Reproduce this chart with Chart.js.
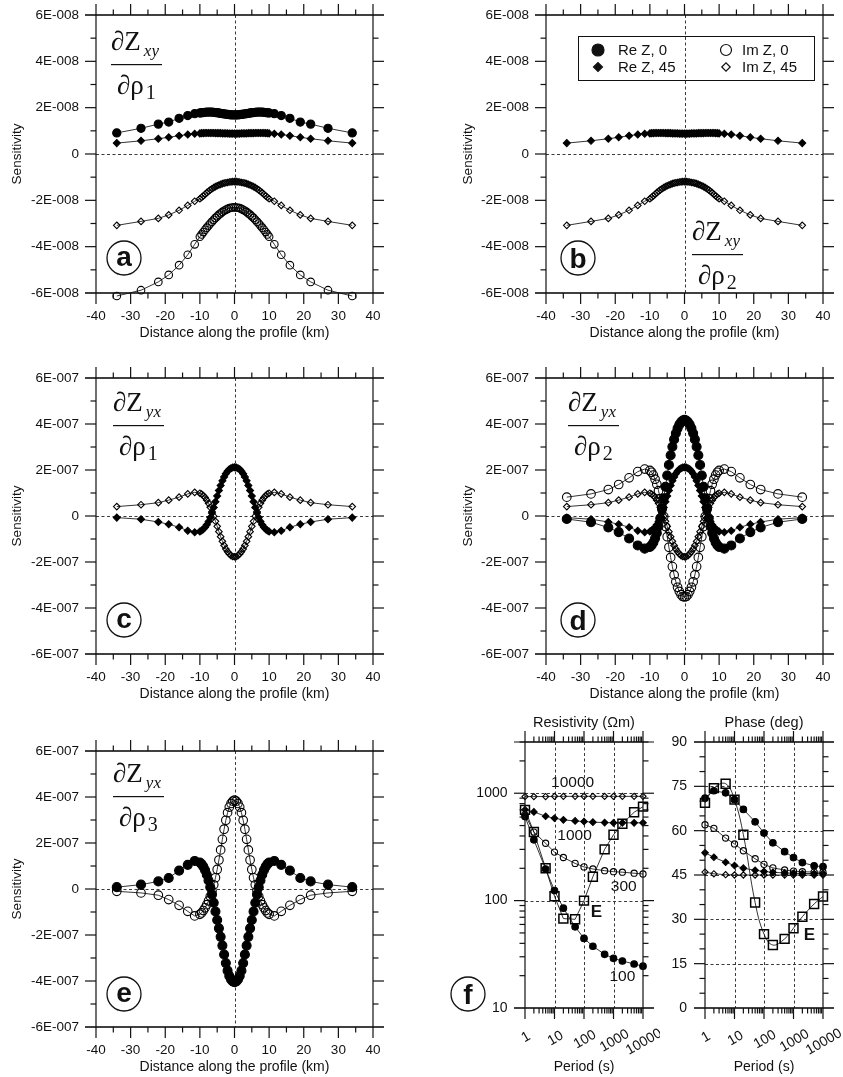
<!DOCTYPE html>
<html>
<head>
<meta charset="utf-8">
<script src="https://cdn.jsdelivr.net/npm/chart.js@4.4.1/dist/chart.umd.min.js"></script>
<style>
  html, body { margin: 0; padding: 0; background: #fff; }
  #page { position: relative; width: 843px; height: 1077px; overflow: hidden; background: #fff; }
  canvas { position: absolute; }
</style>
</head>
<body>
<div id="page">
  <canvas id="pa"></canvas>
  <canvas id="pb"></canvas>
  <canvas id="pc"></canvas>
  <canvas id="pd"></canvas>
  <canvas id="pe"></canvas>
  <canvas id="pf1"></canvas>
  <canvas id="pf2"></canvas>
</div>
<script>
(function () {
    "use strict";

    // ---- data: sensitivity profiles (a-e) ----
    const distance = [-34, -27, -22, -19, -16, -13.5, -11.5, -10, -9.5, -9, -8.5, -8, -7.5, -7, -6.5, -6,
        -5.5, -5, -4.5, -4, -3.5, -3, -2.5, -2, -1.5, -1, -0.5, 0, 0.5, 1, 1.5, 2, 2.5, 3, 3.5, 4, 4.5,
        5, 5.5, 6, 6.5, 7, 7.5, 8, 8.5, 9, 9.5, 10, 11.5, 13.5, 16, 19, 22, 27, 34];

    // dZxy/drho1, dZxy/drho2  (units of 1E-008)
    const xyReZ0 = [0.91, 1.11, 1.29, 1.38, 1.54, 1.66, 1.74, 1.77, 1.78, 1.79, 1.80, 1.81, 1.81, 1.81,
        1.81, 1.80, 1.79, 1.78, 1.77, 1.75, 1.74, 1.73, 1.72, 1.71, 1.70, 1.69, 1.69, 1.69,
        1.69, 1.69, 1.70, 1.71, 1.72, 1.73, 1.74, 1.75, 1.77, 1.78, 1.79, 1.80, 1.81, 1.81, 1.81,
        1.81, 1.80, 1.79, 1.78, 1.77, 1.74, 1.66, 1.54, 1.38, 1.29, 1.11, 0.91];
    const xyReZ45 = [0.47, 0.57, 0.66, 0.72, 0.79, 0.84, 0.87, 0.89, 0.90, 0.90, 0.91, 0.91, 0.91, 0.91,
        0.91, 0.91, 0.90, 0.90, 0.90, 0.90, 0.89, 0.89, 0.89, 0.89, 0.88, 0.88, 0.88, 0.88,
        0.88, 0.88, 0.88, 0.89, 0.89, 0.89, 0.89, 0.90, 0.90, 0.90, 0.90, 0.91, 0.91, 0.91, 0.91,
        0.91, 0.91, 0.90, 0.90, 0.89, 0.87, 0.84, 0.79, 0.72, 0.66, 0.57, 0.47];
    const xyImZ0 = [-6.13, -5.88, -5.52, -5.22, -4.80, -4.35, -3.90, -3.57, -3.47, -3.37, -3.27, -3.18,
        -3.09, -3.00, -2.92, -2.84, -2.76, -2.69, -2.62, -2.56, -2.50, -2.45, -2.41, -2.37, -2.34,
        -2.32, -2.31, -2.30, -2.31, -2.32, -2.34, -2.37, -2.41, -2.45, -2.50, -2.56, -2.62, -2.69,
        -2.76, -2.84, -2.92, -3.00, -3.09, -3.18, -3.27, -3.37, -3.47, -3.57, -3.90, -4.35, -4.80,
        -5.22, -5.52, -5.88, -6.13];
    const xyImZ45 = [-3.08, -2.91, -2.78, -2.63, -2.43, -2.22, -2.04, -1.93, -1.87, -1.81, -1.74, -1.67,
        -1.61, -1.55, -1.50, -1.45, -1.41, -1.37, -1.34, -1.31, -1.28, -1.26, -1.24, -1.23, -1.21,
        -1.20, -1.19, -1.19, -1.19, -1.20, -1.21, -1.23, -1.24, -1.26, -1.28, -1.31, -1.34, -1.37,
        -1.41, -1.45, -1.50, -1.55, -1.61, -1.67, -1.74, -1.81, -1.87, -1.93, -2.04, -2.22, -2.43,
        -2.63, -2.78, -2.91, -3.08];

    // dZyx/drho1, dZyx/drho2  (units of 1E-007)
    const yxReZ45 = [-0.07, -0.14, -0.26, -0.36, -0.49, -0.64, -0.71, -0.67, -0.63, -0.57, -0.49, -0.38,
        -0.24, -0.07, 0.13, 0.37, 0.62, 0.87, 1.11, 1.33, 1.53, 1.70, 1.84, 1.95, 2.03, 2.08, 2.11, 2.12,
        2.11, 2.08, 2.03, 1.95, 1.84, 1.70, 1.53, 1.33, 1.11, 0.87, 0.62, 0.37, 0.13, -0.07, -0.24,
        -0.38, -0.49, -0.57, -0.63, -0.67, -0.71, -0.64, -0.49, -0.36, -0.26, -0.14, -0.07];
    const yxImZ45 = [0.41, 0.49, 0.58, 0.69, 0.82, 0.96, 1.03, 0.99, 0.95, 0.89, 0.80, 0.69, 0.55, 0.38,
        0.19, -0.01, -0.23, -0.45, -0.68, -0.90, -1.10, -1.28, -1.43, -1.55, -1.65, -1.72, -1.76, -1.77,
        -1.76, -1.72, -1.65, -1.55, -1.43, -1.28, -1.10, -0.90, -0.68, -0.45, -0.23, -0.01, 0.19, 0.38,
        0.55, 0.69, 0.80, 0.89, 0.95, 0.99, 1.03, 0.96, 0.82, 0.69, 0.58, 0.49, 0.41];
    const yxReZ0r2 = [-0.13, -0.27, -0.50, -0.70, -0.98, -1.28, -1.42, -1.35, -1.27, -1.15, -0.97, -0.74,
        -0.45, -0.10, 0.30, 0.77, 1.27, 1.76, 2.22, 2.64, 3.01, 3.33, 3.60, 3.81, 3.97, 4.08, 4.15, 4.18,
        4.15, 4.08, 3.97, 3.81, 3.60, 3.33, 3.01, 2.64, 2.22, 1.76, 1.27, 0.77, 0.30, -0.10, -0.45,
        -0.74, -0.97, -1.15, -1.27, -1.35, -1.42, -1.28, -0.98, -0.70, -0.50, -0.27, -0.13];
    const yxImZ0r2 = [0.82, 0.96, 1.15, 1.37, 1.66, 1.93, 2.04, 1.98, 1.90, 1.78, 1.60, 1.38, 1.10, 0.76,
        0.38, -0.02, -0.46, -0.90, -1.36, -1.80, -2.20, -2.56, -2.86, -3.10, -3.28, -3.42, -3.50, -3.52,
        -3.50, -3.42, -3.28, -3.10, -2.86, -2.56, -2.20, -1.80, -1.36, -0.90, -0.46, -0.02, 0.38, 0.76,
        1.10, 1.38, 1.60, 1.78, 1.90, 1.98, 2.04, 1.93, 1.66, 1.37, 1.15, 0.96, 0.82];

    // dZyx/drho3  (units of 1E-007)
    const yxReZ0r3 = [0.08, 0.19, 0.33, 0.48, 0.80, 1.05, 1.22, 1.15, 1.08, 0.97, 0.82, 0.62, 0.37, 0.08,
        -0.24, -0.60, -0.98, -1.35, -1.71, -2.08, -2.46, -2.85, -3.22, -3.55, -3.78, -3.93, -4.02, -4.05,
        -4.02, -3.93, -3.78, -3.55, -3.22, -2.85, -2.46, -2.08, -1.71, -1.35, -0.98, -0.60, -0.24, 0.08,
        0.37, 0.62, 0.82, 0.97, 1.08, 1.15, 1.22, 1.05, 0.80, 0.48, 0.33, 0.19, 0.08];
    const yxImZ0r3 = [-0.10, -0.17, -0.27, -0.46, -0.71, -0.97, -1.17, -1.10, -1.04, -0.94, -0.82, -0.68,
        -0.52, -0.32, -0.09, 0.18, 0.49, 0.85, 1.26, 1.70, 2.16, 2.60, 2.99, 3.32, 3.56, 3.72, 3.82, 3.86,
        3.82, 3.72, 3.56, 3.32, 2.99, 2.60, 2.16, 1.70, 1.26, 0.85, 0.49, 0.18, -0.09, -0.32, -0.52,
        -0.68, -0.82, -0.94, -1.04, -1.10, -1.17, -0.97, -0.71, -0.46, -0.27, -0.17, -0.10];

    // ---- data: sounding curves (f) ----
    const period = [1, 2, 5, 10, 20, 50, 100, 200, 500, 1000, 2000, 5000, 10000];
    const res100 = [606, 368, 197, 124, 85, 57, 44.5, 37.6, 31.6, 29, 27.4, 25.7, 24.5];
    const res300 = [630, 435, 342, 283, 252, 222, 206, 197, 190, 186, 184, 180, 177];
    const res1000 = [700, 670, 610, 585, 565, 552, 545, 538, 533, 530, 530, 530, 530];
    const res10000 = [930, 930, 932, 935, 935, 935, 935, 935, 935, 935, 935, 935, 935];
    const resE = [700, 435, 200, 110, 68, 67, 100, 167, 300, 410, 520, 665, 750];
    const phase100 = [71, 73.5, 72.8, 70.5, 67.2, 63, 59.2, 55.9, 52.9, 50.9, 49.2, 48.1, 47.8];
    const phase300 = [62, 60.8, 57.5, 55.5, 53.2, 50.5, 48.6, 47.4, 46.7, 46.3, 46.1, 46, 45.9];
    const phase1000 = [52.5, 51, 49.3, 48.2, 47.3, 46.6, 46.2, 45.9, 45.7, 45.6, 45.5, 45.5, 45.5];
    const phase10000 = [46, 45.4, 45.1, 45, 45, 45, 45, 45, 45, 45, 45, 45, 45];
    const phaseE = [69.4, 74.4, 75.9, 70.5, 58.6, 35.7, 25.0, 21.3, 23.4, 27.0, 30.9, 35.2, 37.7];

    // ---- ticks and labels ----
    const distTicks = [-40, -30, -20, -10, 0, 10, 20, 30, 40];
    const distMinor = [-35, -25, -15, -5, 5, 15, 25, 35];
    const sensTicks = [-6, -4, -2, 0, 2, 4, 6];
    const sensMinor = [-5, -3, -1, 1, 3, 5];
    const periodTicks = [1, 10, 100, 1000, 10000];
    const periodMinor = [2, 3, 4, 5, 6, 7, 8, 9, 20, 30, 40, 50, 60, 70, 80, 90, 200, 300, 400, 500,
        600, 700, 800, 900, 2000, 3000, 4000, 5000, 6000, 7000, 8000, 9000];
    const resTicks = [10, 100, 1000];
    const resMinor = [20, 30, 40, 50, 60, 70, 80, 90, 200, 300, 400, 500, 600, 700, 800, 900, 2000, 3000];
    const phaseTicks = [0, 15, 30, 45, 60, 75, 90];
    const phaseMinor = [5, 10, 20, 25, 35, 40, 50, 55, 65, 70, 80, 85];
    const legendLabels = ["Re Z, 0", "Re Z, 45", "Im Z, 0", "Im Z, 45"];

    const SANS = '"Liberation Sans", Arial, sans-serif';
    const SERIF = '"Liberation Serif", "DejaVu Serif", serif';
    Chart.defaults.font.family = SANS;
    Chart.defaults.color = "#111";

    function seg(ctx, x1, y1, x2, y2) {
        ctx.beginPath();
        ctx.moveTo(x1, y1);
        ctx.lineTo(x2, y2);
        ctx.stroke();
    }

    function marker(ctx, shape, x, y, r, filled) {
        ctx.beginPath();
        if (shape === "circle") {
            ctx.arc(x, y, r, 0, Math.PI * 2);
        } else {
            ctx.moveTo(x - r, y);
            ctx.lineTo(x, y - r);
            ctx.lineTo(x + r, y);
            ctx.lineTo(x, y + r);
            ctx.closePath();
        }
        if (filled) ctx.fill();
        ctx.stroke();
    }

    // Frame, ticks on all four sides, reference lines and panel decorations
    const framePlugin = {
        id: "frame",
        beforeDatasetsDraw(chart, args, o) {
            const { ctx, chartArea: a, scales: { x, y } } = chart;
            ctx.save();
            ctx.strokeStyle = "#3a3a3a";
            ctx.lineWidth = 1;
            ctx.setLineDash([3, 2.5]);
            (o.vLines || []).forEach((v) => {
                const px = Math.round(x.getPixelForValue(v)) + 0.5;
                seg(ctx, px, a.top, px, a.bottom);
            });
            (o.hLines || []).forEach((v) => {
                const py = Math.round(y.getPixelForValue(v)) + 0.5;
                seg(ctx, a.left, py, a.right, py);
            });
            ctx.restore();
        },
        afterDraw(chart, args, o) {
            const { ctx, chartArea: a, scales: { x, y } } = chart;
            const L = 11, l = 5.5;
            ctx.save();
            ctx.strokeStyle = "#111";
            ctx.fillStyle = "#111";
            ctx.lineWidth = 1.2;
            ctx.strokeRect(a.left, a.top, a.right - a.left, a.bottom - a.top);
            seg(ctx, a.left - L, a.top, a.right + L, a.top);
            seg(ctx, a.left - L, a.bottom, a.right + L, a.bottom);
            const xt = (vals, len) => vals.forEach((v) => {
                const px = x.getPixelForValue(v);
                seg(ctx, px, a.bottom, px, a.bottom + len);
                seg(ctx, px, a.top, px, a.top - len);
            });
            const yt = (vals, len) => vals.forEach((v) => {
                const py = y.getPixelForValue(v);
                seg(ctx, a.left, py, a.left - len, py);
                seg(ctx, a.right, py, a.right + len, py);
            });
            xt(o.xMajor, L);
            xt(o.xMinor, l);
            yt(o.yMajor, L);
            yt(o.yMinor, l);

            // rotated period labels
            if (o.rotLabels) {
                ctx.font = "14px " + SANS;
                ctx.textAlign = "center";
                ctx.textBaseline = "middle";
                x.ticks.forEach((t) => {
                    const s = String(t.value);
                    ctx.save();
                    ctx.translate(x.getPixelForValue(t.value) + 1, a.bottom + 28 + 1.2 * s.length);
                    ctx.rotate(-Math.PI / 6);
                    ctx.fillText(s, 0, 0);
                    ctx.restore();
                });
            }

            if (o.topTitle) {
                ctx.font = "14.5px " + SANS;
                ctx.textAlign = "center";
                ctx.textBaseline = "middle";
                ctx.fillText(o.topTitle, (a.left + a.right) / 2, a.top - 19.5);
            }

            (o.notes || []).forEach((n) => {
                ctx.font = (n.bold ? "bold 17px " : "15.5px ") + SANS;
                ctx.textAlign = "center";
                ctx.textBaseline = "middle";
                ctx.fillText(n.text, x.getPixelForValue(n.x), y.getPixelForValue(n.y));
            });

            // derivative label
            if (o.formula) {
                const f = o.formula;
                const x0 = a.left + f.dx, y0 = a.top + f.dy;
                ctx.textAlign = "left";
                ctx.textBaseline = "alphabetic";
                ctx.font = "27px " + SERIF;
                ctx.fillText("\u2202Z", x0, y0);
                const w1 = ctx.measureText("\u2202Z").width;
                ctx.font = "italic 17px " + SERIF;
                ctx.fillText(f.sub, x0 + w1 + 3, y0 + 6);
                ctx.fillRect(x0, y0 + 14, 51, 1.2);
                ctx.font = "27px " + SERIF;
                ctx.fillText("\u2202\u03C1", x0 + 6, y0 + 44);
                const w2 = ctx.measureText("\u2202\u03C1").width;
                ctx.font = "20px " + SERIF;
                ctx.fillText(f.idx, x0 + 6 + w2 + 2, y0 + 49);
            }

            // panel letter
            if (o.letter) {
                const cx = a.left + o.letter.dx, cy = a.bottom + o.letter.dy;
                ctx.lineWidth = 1.3;
                ctx.beginPath();
                ctx.arc(cx, cy, 17, 0, Math.PI * 2);
                ctx.stroke();
                ctx.font = "bold 28px " + SANS;
                ctx.textAlign = "center";
                ctx.textBaseline = "alphabetic";
                const m = ctx.measureText(o.letter.ch);
                ctx.fillText(o.letter.ch, cx,
                    cy + (m.actualBoundingBoxAscent - m.actualBoundingBoxDescent) / 2);
            }

            if (o.legend) {
                const lx = a.left + 32, ly = a.top + 21;
                ctx.lineWidth = 1;
                ctx.strokeRect(lx + 0.5, ly + 0.5, 236, 44);
                const items = [
                    { dx: 20, dy: 14, shape: "circle", r: 6, fill: true },
                    { dx: 20, dy: 31, shape: "diamond", r: 4.5, fill: true },
                    { dx: 148, dy: 14, shape: "circle", r: 5.5, fill: false },
                    { dx: 148, dy: 31, shape: "diamond", r: 4.2, fill: false },
                ];
                ctx.font = "15px " + SANS;
                ctx.textAlign = "left";
                ctx.textBaseline = "middle";
                items.forEach((it, i) => {
                    ctx.lineWidth = 1.2;
                    marker(ctx, it.shape, lx + it.dx, ly + it.dy, it.r, it.fill);
                    ctx.fillText(legendLabels[i], lx + it.dx + (i < 2 ? 20 : 16), ly + it.dy + 1);
                });
            }
            ctx.restore();
        },
    };

    function series(xs, ys, style) {
        return Object.assign({
            data: xs.map((x, i) => ({ x: x, y: ys[i] })),
            borderColor: "#000",
            borderWidth: 0.8,
            pointBorderColor: "#000",
            pointBorderWidth: 1.1,
            fill: false,
            tension: 0,
            clip: false,
        }, style);
    }

    const reZ0 = (r) => ({ pointStyle: "circle", pointRadius: r, pointBackgroundColor: "#000" });
    const imZ0 = (r) => ({ pointStyle: "circle", pointRadius: r, pointBackgroundColor: "transparent" });
    const reZ45 = { pointStyle: "rectRot", pointRadius: 3.5, pointBackgroundColor: "#000" };
    const imZ45 = { pointStyle: "rectRot", pointRadius: 3.3, pointBackgroundColor: "transparent" };

    function noPad(s) {
        s.paddingTop = 0;
        s.paddingBottom = 0;
        s.paddingLeft = 0;
        s.paddingRight = 0;
    }

    function makePanel(id, box, area, opt) {
        const cv = document.getElementById(id);
        cv.width = box.w;
        cv.height = box.h;
        cv.style.left = box.left + "px";
        cv.style.top = box.top + "px";
        cv.style.width = box.w + "px";
        cv.style.height = box.h + "px";
        const yAxisW = area.l - box.left;
        const xAxisH = box.top + box.h - area.b;
        return new Chart(cv, {
            type: "line",
            data: { datasets: opt.datasets },
            options: {
                responsive: false,
                animation: false,
                events: [],
                devicePixelRatio: 1,
                layout: {
                    padding: { left: 0, top: area.t - box.top, right: box.left + box.w - area.r, bottom: 0 },
                },
                plugins: {
                    legend: { display: false },
                    tooltip: { enabled: false },
                    frame: opt.frame,
                },
                scales: {
                    x: {
                        type: opt.xType,
                        min: opt.xMin,
                        max: opt.xMax,
                        grid: { display: false, drawTicks: false },
                        border: { display: false },
                        afterBuildTicks: (s) => { s.ticks = opt.xTicks.map((v) => ({ value: v })); },
                        afterFit: (s) => { s.height = xAxisH; noPad(s); },
                        ticks: {
                            display: !opt.rotLabels,
                            autoSkip: false,
                            maxRotation: 0,
                            padding: 15.5,
                            font: { size: 13.5 },
                            callback: (v) => String(v),
                        },
                        title: {
                            display: true,
                            text: opt.xTitle,
                            font: { size: 14 },
                            padding: { top: 0, bottom: xAxisH - opt.xTitleOffset - 8.4 },
                        },
                    },
                    y: {
                        type: opt.yType,
                        min: opt.yMin,
                        max: opt.yMax,
                        grid: { display: false, drawTicks: false },
                        border: { display: false },
                        afterBuildTicks: (s) => { s.ticks = opt.yTicks.map((v) => ({ value: v })); },
                        afterFit: (s) => { s.width = yAxisW; noPad(s); },
                        ticks: {
                            autoSkip: false,
                            padding: opt.yPad,
                            font: { size: opt.yFont },
                            callback: opt.yFormat,
                        },
                        title: {
                            display: !!opt.yTitle,
                            text: opt.yTitle,
                            font: { size: 13.5 },
                            padding: { top: (opt.yTitleX || 20) - 8.1, bottom: 0 },
                        },
                    },
                },
            },
            plugins: [framePlugin],
        });
    }

    const fmt8 = (v) => (v === 0 ? "0" : v + "E-008");
    const fmt7 = (v) => (v === 0 ? "0" : v + "E-007");

    function sensPanel(id, box, area, datasets, fmt, frame, yTitleX) {
        return makePanel(id, box, area, {
            datasets: datasets,
            xType: "linear", xMin: -40, xMax: 40, xTicks: distTicks,
            yType: "linear", yMin: -6, yMax: 6, yTicks: sensTicks,
            xTitle: "Distance along the profile (km)", xTitleOffset: 40,
            yTitle: "Sensitivity", yTitleX: yTitleX, yPad: 17, yFont: 13.5, yFormat: fmt,
            frame: Object.assign({
                xMajor: distTicks, xMinor: distMinor, yMajor: sensTicks, yMinor: sensMinor,
                vLines: [0], hLines: [0],
            }, frame),
        });
    }

    // a
    sensPanel("pa", { left: 0, top: 0, w: 420, h: 350 }, { l: 96, t: 15, r: 373, b: 293 }, [
        series(distance, xyReZ0, reZ0(4.1)),
        series(distance, xyReZ45, reZ45),
        series(distance, xyImZ0, imZ0(3.8)),
        series(distance, xyImZ45, imZ45),
    ], fmt8, { letter: { ch: "a", dx: 28, dy: -35 }, formula: { dx: 15, dy: 35, sub: "xy", idx: "1" } }, 17);

    // b
    sensPanel("pb", { left: 420, top: 0, w: 423, h: 350 }, { l: 546, t: 15, r: 823, b: 293 }, [
        series(distance, xyReZ45, reZ45),
        series(distance, xyImZ45, imZ45),
    ], fmt8, {
        letter: { ch: "b", dx: 32, dy: -35 },
        formula: { dx: 146, dy: 225, sub: "xy", idx: "2" },
        legend: true,
    }, 48.3);

    // c
    sensPanel("pc", { left: 0, top: 350, w: 420, h: 355 }, { l: 96, t: 378, r: 373, b: 654 }, [
        series(distance, yxReZ45, reZ45),
        series(distance, yxImZ45, imZ45),
    ], fmt7, { letter: { ch: "c", dx: 28, dy: -34 }, formula: { dx: 17, dy: 33, sub: "yx", idx: "1" } }, 17);

    // d
    sensPanel("pd", { left: 420, top: 350, w: 423, h: 355 }, { l: 546, t: 378, r: 823, b: 654 }, [
        series(distance, yxReZ0r2, reZ0(4.5)),
        series(distance, yxReZ45, reZ45),
        series(distance, yxImZ0r2, imZ0(4.3)),
        series(distance, yxImZ45, imZ45),
    ], fmt7, { letter: { ch: "d", dx: 32, dy: -34 }, formula: { dx: 22, dy: 33, sub: "yx", idx: "2" } }, 48.3);

    // e
    sensPanel("pe", { left: 0, top: 705, w: 420, h: 372 }, { l: 96, t: 751, r: 373, b: 1027 }, [
        series(distance, yxReZ0r3, reZ0(4.5)),
        series(distance, yxImZ0r3, imZ0(4.3)),
    ], fmt7, { letter: { ch: "e", dx: 28, dy: -33 }, formula: { dx: 17, dy: 31, sub: "yx", idx: "3" } }, 17);

    // f: resistivity and phase
    const c100 = { pointStyle: "circle", pointRadius: 3.3, pointBackgroundColor: "#000" };
    const c300 = { pointStyle: "circle", pointRadius: 3.1, pointBackgroundColor: "transparent" };
    const c1000 = { pointStyle: "rectRot", pointRadius: 3.3, pointBackgroundColor: "#000" };
    const c10000 = { pointStyle: "rectRot", pointRadius: 3.1, pointBackgroundColor: "transparent" };
    const cE = { pointStyle: "rect", pointRadius: 6.3, pointBorderWidth: 1.5, pointBackgroundColor: "transparent" };

    makePanel("pf1", { left: 420, top: 705, w: 240, h: 372 }, { l: 525, t: 742, r: 643, b: 1008 }, {
        datasets: [
            series(period, resE, cE),
            series(period, res100, c100),
            series(period, res300, c300),
            series(period, res1000, c1000),
            series(period, res10000, c10000),
        ],
        xType: "logarithmic", xMin: 1, xMax: 10000, xTicks: periodTicks, rotLabels: true,
        yType: "logarithmic", yMin: 10, yMax: 3000, yTicks: resTicks,
        xTitle: "Period (s)", xTitleOffset: 58.7,
        yTitle: "", yPad: 17.5, yFont: 14, yFormat: (v) => String(v),
        frame: {
            xMajor: periodTicks, xMinor: periodMinor, yMajor: resTicks, yMinor: resMinor,
            vLines: [10, 100, 1000], hLines: [100, 1000],
            rotLabels: true,
            topTitle: "Resistivity (\u03A9m)",
            letter: { ch: "f", dx: -57, dy: -14 },
            notes: [
                { text: "10000", x: 41, y: 1250 },
                { text: "1000", x: 48, y: 403 },
                { text: "300", x: 2230, y: 135 },
                { text: "100", x: 2000, y: 19.5 },
                { text: "E", x: 263, y: 77, bold: true },
            ],
        },
    });

    makePanel("pf2", { left: 660, top: 705, w: 183, h: 372 }, { l: 705, t: 742, r: 823, b: 1008 }, {
        datasets: [
            series(period, phaseE, Object.assign({ tension: 0.4 }, cE)),
            series(period, phase100, c100),
            series(period, phase300, c300),
            series(period, phase1000, c1000),
            series(period, phase10000, c10000),
        ],
        xType: "logarithmic", xMin: 1, xMax: 10000, xTicks: periodTicks, rotLabels: true,
        yType: "linear", yMin: 0, yMax: 90, yTicks: phaseTicks,
        xTitle: "Period (s)", xTitleOffset: 58.7,
        yTitle: "", yPad: 18, yFont: 14, yFormat: (v) => String(v),
        frame: {
            xMajor: periodTicks, xMinor: periodMinor, yMajor: phaseTicks, yMinor: phaseMinor,
            vLines: [10, 100, 1000], hLines: [15, 30, 45, 60, 75],
            rotLabels: true,
            topTitle: "Phase (deg)",
            notes: [{ text: "E", x: 3450, y: 24.7, bold: true }],
        },
    });
})();
</script>
</body>
</html>
